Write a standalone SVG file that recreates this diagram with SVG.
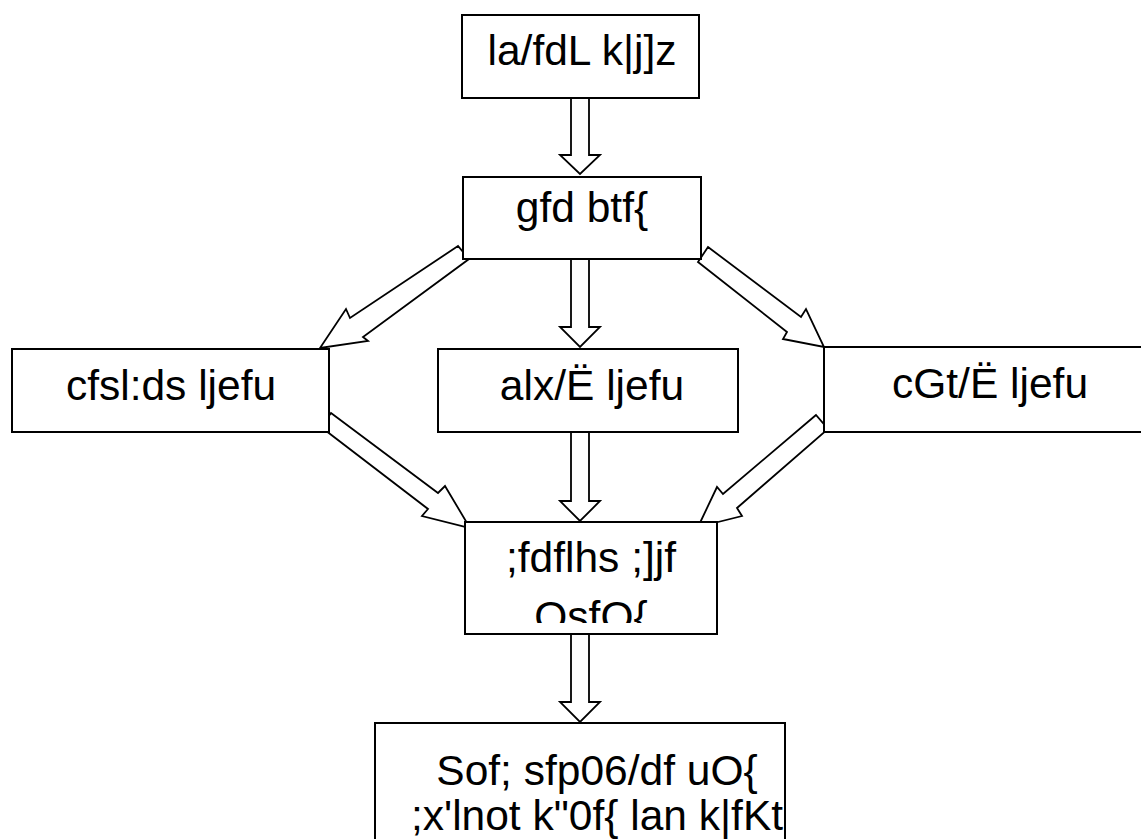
<svg xmlns="http://www.w3.org/2000/svg" width="1141" height="839" viewBox="0 0 1141 839">
<style>
.box{fill:#fff;stroke:#000;stroke-width:2}
.arr{fill:#fff;stroke:#000;stroke-width:1.8;stroke-linejoin:miter}
.t{font-family:"Liberation Sans",Arial,sans-serif;font-size:42.5px;fill:#000;text-anchor:middle}
</style>
<defs>
<clipPath id="clipSeva"><rect x="466" y="523" width="250" height="100"/></clipPath>
</defs>
<rect width="1141" height="839" fill="#fff"/>
<g id="connectors">
<polygon class="arr" points="571,98 589,98 589,155 600,155 580,174 560,155 571,155"/>
<polygon class="arr" points="571,259 589,259 589,327 600,327 580,347 560,327 571,327"/>
<polygon class="arr" points="571,432 589,432 589,501 600,501 580,521 560,501 571,501"/>
<polygon class="arr" points="571,634 589,634 589,702 600,702 580,722 560,702 571,702"/>
<polygon class="arr" points="458,246 350,318 346,309 320,348 368,341 363,337 469,259"/>
<polygon class="arr" points="708,247 801,317 806,309 824,347 783,339 787,332 698,262"/>
<polygon class="arr" points="331,413 438,493 445,486 470,528 422,516 428,509 321,427"/>
<polygon class="arr" points="816,415 723,494 717,487 698,527 742,516 737,508 828,429"/>
</g>
<g id="n_top">
<rect class="box" x="462" y="15" width="237" height="83"/>
<text class="t" x="582" y="65">la/fdL k|j]z</text>
</g>
<g id="n_gfd">
<rect class="box" x="463" y="177" width="238" height="82"/>
<text class="t" x="582" y="222">gfd btf{</text>
</g>
<g id="n_left">
<rect class="box" x="12" y="349" width="317" height="83"/>
<text class="t" x="171" y="400">cfsl:ds ljefu</text>
</g>
<g id="n_mid">
<rect class="box" x="438" y="349" width="300" height="83"/>
<text class="t" x="592" y="400">alx/Ë ljefu</text>
</g>
<g id="n_right">
<rect class="box" x="824" y="347" width="340" height="85"/>
<text class="t" x="990" y="398">cGt/Ë ljefu</text>
</g>
<g id="n_seva">
<rect class="box" x="465" y="522" width="252" height="112"/>
<g clip-path="url(#clipSeva)">
<text class="t" x="591" y="572">;fdflhs ;]jf</text>
<text class="t" x="591" y="631">OsfO{</text>
</g>
</g>
<g id="n_bottom">
<rect class="box" x="375" y="723" width="410" height="130"/>
<text class="t" x="597" y="785">Sof; sfp06/df uO{</text>
<text class="t" x="597" y="830">;x'lnot k"0f{ lan k|fKt</text>
</g>
</svg>
